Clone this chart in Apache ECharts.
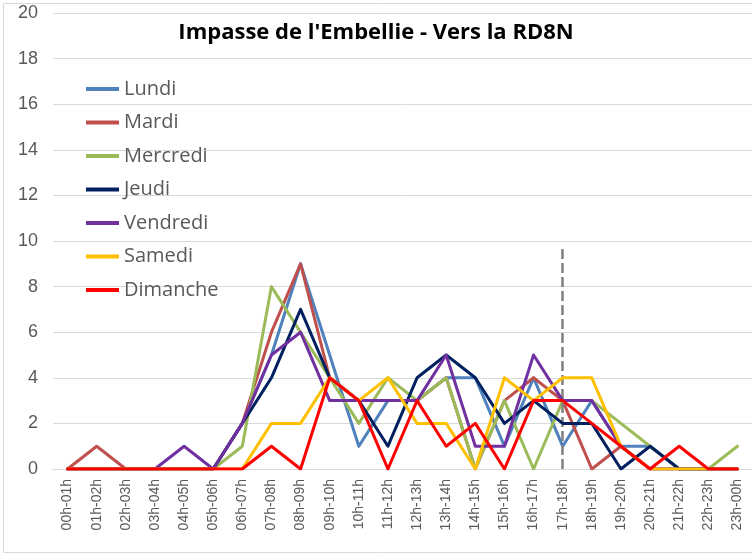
<!DOCTYPE html>
<html>
<head>
<meta charset="utf-8">
<script src="https://cdn.jsdelivr.net/npm/echarts@6/dist/echarts.min.js"></script>
<style>html,body{margin:0;padding:0;background:#fff}#c{width:752px;height:554px}</style>
</head>
<body>
<div id="c"></div>
<script>
const categories = ['00h-01h','01h-02h','02h-03h','03h-04h','04h-05h','05h-06h','06h-07h','07h-08h','08h-09h','09h-10h','10h-11h','11h-12h','12h-13h','13h-14h','14h-15h','15h-16h','16h-17h','17h-18h','18h-19h','19h-20h','20h-21h','21h-22h','22h-23h','23h-00h'];
const lundi    = [0,0,0,0,0,0,2,5,9,5,1,3,3,4,4,1,4,1,3,1,1,0,0,0];
const mardi    = [0,1,0,0,0,0,2,6,9,4,3,3,3,4,0,3,4,3,0,1,0,0,0,0];
const mercredi = [0,0,0,0,0,0,1,8,6,4,2,4,3,4,0,3,0,3,3,2,1,0,0,1];
const jeudi    = [0,0,0,0,0,0,2,4,7,4,3,1,4,5,4,2,3,2,2,0,1,0,0,0];
const vendredi = [0,0,0,0,1,0,2,5,6,3,3,3,3,5,1,1,5,3,3,1,0,0,0,0];
const samedi   = [0,0,0,0,0,0,0,2,2,4,3,4,2,2,0,4,3,4,4,1,0,0,0,0];
const dimanche = [0,0,0,0,0,0,0,1,0,4,3,0,3,1,2,0,3,3,2,1,0,1,0,0];
const seriesNames = ['Lundi','Mardi','Mercredi','Jeudi','Vendredi','Samedi','Dimanche'];
const seriesColors = ['#4F81BD','#C0504D','#9BBB59','#002060','#7030A0','#FFC000','#FF0000'];
const markerCategory = '17h-18h';
const markerTop = 9.8;
const yTicksMax = 20, yTickStep = 2;

const allData = [lundi, mardi, mercredi, jeudi, vendredi, samedi, dimanche];
const chart = echarts.init(document.getElementById('c'));
const series = allData.map((d, i) => ({
  name: seriesNames[i],
  type: 'line',
  data: d,
  symbol: 'none',
  color: seriesColors[i],
  lineStyle: { width: 3, color: seriesColors[i], cap: 'round', join: 'round' },
  z: 2 + i,
  animation: false
}));
series[0].markLine = {
  silent: true,
  symbol: ['none','none'],
  label: { show: false },
  lineStyle: { color: '#808080', type: [10, 4], width: 2.5 },
  data: [[{ coord: [markerCategory, 0] }, { coord: [markerCategory, markerTop] }]]
};

chart.setOption({
  animation: false,
  graphic: [{
    type: 'rect', shape: { x: 3.5, y: 3.5, width: 760, height: 549 },
    style: { fill: 'none', stroke: '#d9d9d9', lineWidth: 1 }, z: -1
  }],
  title: {
    text: "Impasse de l'Embellie - Vers la RD8N",
    left: 'center', top: 17,
    textStyle: { fontFamily: 'Open Sans', fontWeight: 'bold', fontSize: 22, color: '#000' }
  },
  legend: {
    orient: 'vertical', left: 81, top: 74,
    itemWidth: 33, itemHeight: 4, itemGap: 13.5,
    icon: 'rect',
    data: seriesNames,
    textStyle: { fontFamily: 'Open Sans', fontSize: 20, color: '#595959', lineHeight: 20 }
  },
  grid: { left: 53, right: -3, top: 13, bottom: 85 },
  xAxis: {
    type: 'category', data: categories, boundaryGap: true,
    axisLine: { lineStyle: { color: '#d9d9d9', width: 1 } },
    axisTick: { show: false },
    axisLabel: { rotate: 90, fontSize: 14, color: '#595959', fontFamily: 'Liberation Sans', margin: 10, interval: 0 }
  },
  yAxis: {
    type: 'value', min: 0, max: yTicksMax, interval: yTickStep,
    axisLine: { show: false }, axisTick: { show: false },
    splitLine: { lineStyle: { color: '#d9d9d9', width: 1 } },
    axisLabel: { fontSize: 18, color: '#595959', fontFamily: 'Liberation Sans', margin: 15 }
  },
  series: series
});
</script>
</body>
</html>
